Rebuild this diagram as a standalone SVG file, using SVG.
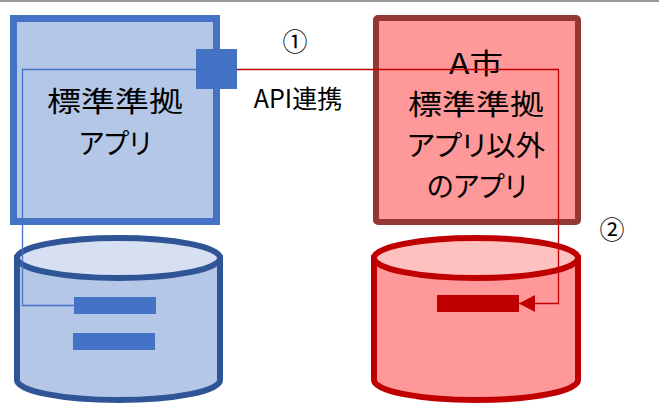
<svg xmlns="http://www.w3.org/2000/svg" width="659" height="405" viewBox="0 0 659 405">
<style>
.t{font-family:"Noto Sans CJK JP","Noto Sans",sans-serif;fill:#000;text-anchor:middle}
.big{font-size:28px;font-feature-settings:"palt"}
.lbl{font-size:25px}
</style>
<defs>
<marker id="arr" viewBox="0 0 16 17" refX="16" refY="8.5" markerWidth="16" markerHeight="17" markerUnits="userSpaceOnUse" orient="auto">
<path d="M0,0 L16,8.5 L0,17 Z" fill="#C00000"/>
</marker>
</defs>
<rect x="0" y="0" width="659" height="2" fill="#999"/>
<g id="appA">
<rect x="13.5" y="18.5" width="203" height="203" fill="#B4C7E7" stroke="#4472C4" stroke-width="7"/>
<text class="t big"><tspan x="115" y="112" textLength="136" lengthAdjust="spacingAndGlyphs">標準準拠</tspan><tspan x="115" y="154" textLength="72" lengthAdjust="spacingAndGlyphs">アプリ</tspan></text>
</g>
<g id="appB">
<rect x="376" y="18" width="202" height="204" rx="2" fill="#FF9999" stroke="#943634" stroke-width="6"/>
<text class="t big"><tspan x="476" y="74" textLength="54" lengthAdjust="spacingAndGlyphs">A市</tspan><tspan x="476" y="115" textLength="136" lengthAdjust="spacingAndGlyphs">標準準拠</tspan><tspan x="476" y="156" textLength="138" lengthAdjust="spacingAndGlyphs">アプリ以外</tspan><tspan x="477" y="197" textLength="100" lengthAdjust="spacingAndGlyphs">のアプリ</tspan></text>
</g>
<g id="dbA">
<path d="M17,258 L17,380 A101.5,20 0 0 0 220,380 L220,258 Z" fill="#B4C7E7" stroke="#2F5597" stroke-width="6"/>
<ellipse cx="118.5" cy="258" rx="101.5" ry="20" fill="#D6E0F2" stroke="#2F5597" stroke-width="6"/>
<rect x="74" y="297" width="82" height="17" fill="#4472C4"/>
<rect x="73" y="333" width="82" height="17" fill="#4472C4"/>
</g>
<g id="dbB">
<path d="M374,258 L374,380 A102,20 0 0 0 578,380 L578,258 Z" fill="#FF9999" stroke="#C00000" stroke-width="6"/>
<ellipse cx="476" cy="258" rx="102" ry="20" fill="#FFC0C0" stroke="#C00000" stroke-width="6"/>
<rect x="437" y="295" width="82" height="17" fill="#C00000"/>
</g>
<g id="connectors">
<polyline points="196,69.5 22.5,69.5 22.5,305.5 74,305.5" fill="none" stroke="#4472C4" stroke-width="1.3"/>
<polyline points="237,69.5 558.5,69.5 558.5,303.5 519,303.5" fill="none" stroke="#C00000" stroke-width="1.3" marker-end="url(#arr)"/>
</g>
<g id="api">
<rect x="196" y="49" width="41" height="40" fill="#4472C4"/>
</g>
<text class="t lbl" x="295" y="51">①</text>
<text class="t lbl" x="298" y="108">API連携</text>
<text class="t lbl" x="612" y="239">②</text>
</svg>
